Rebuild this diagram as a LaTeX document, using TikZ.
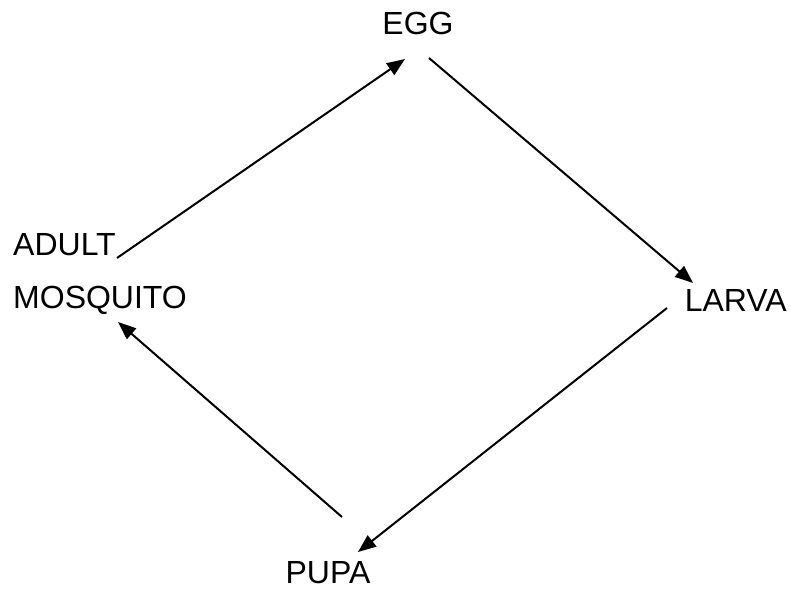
\documentclass[tikz,border=0pt]{standalone}
\usepackage{fontspec}
\setmainfont{Liberation Sans}
\usetikzlibrary{arrows.meta}
\begin{document}
\begin{tikzpicture}[x=1pt,y=-1pt,
  lbl/.style={inner sep=0pt,font=\fontsize{32}{32}\selectfont},
  conn/.style={line width=2pt,-{Triangle[length=18pt,width=14pt]}}]
\useasboundingbox (0,0) rectangle (791,590);
\node[lbl] (egg) at (418,23) {EGG};
\node[lbl,anchor=east] (larva) at (787,300) {LARVA};
\node[lbl] (pupa) at (328,573) {PUPA};
\node[lbl,anchor=west] (adult) at (13,245) {ADULT};
\node[lbl,anchor=west] (mosq) at (13,300) {MOSQUITO};
\coordinate (a1) at (117,258); \coordinate (a2) at (405,59);
\coordinate (b1) at (429,58); \coordinate (b2) at (693,283);
\coordinate (c1) at (667,308); \coordinate (c2) at (358,552);
\coordinate (d1) at (342,517); \coordinate (d2) at (118,322);
\draw[conn] (a1) -- (a2);
\draw[conn] (b1) -- (b2);
\draw[conn] (c1) -- (c2);
\draw[conn] (d1) -- (d2);
\end{tikzpicture}
\end{document}
